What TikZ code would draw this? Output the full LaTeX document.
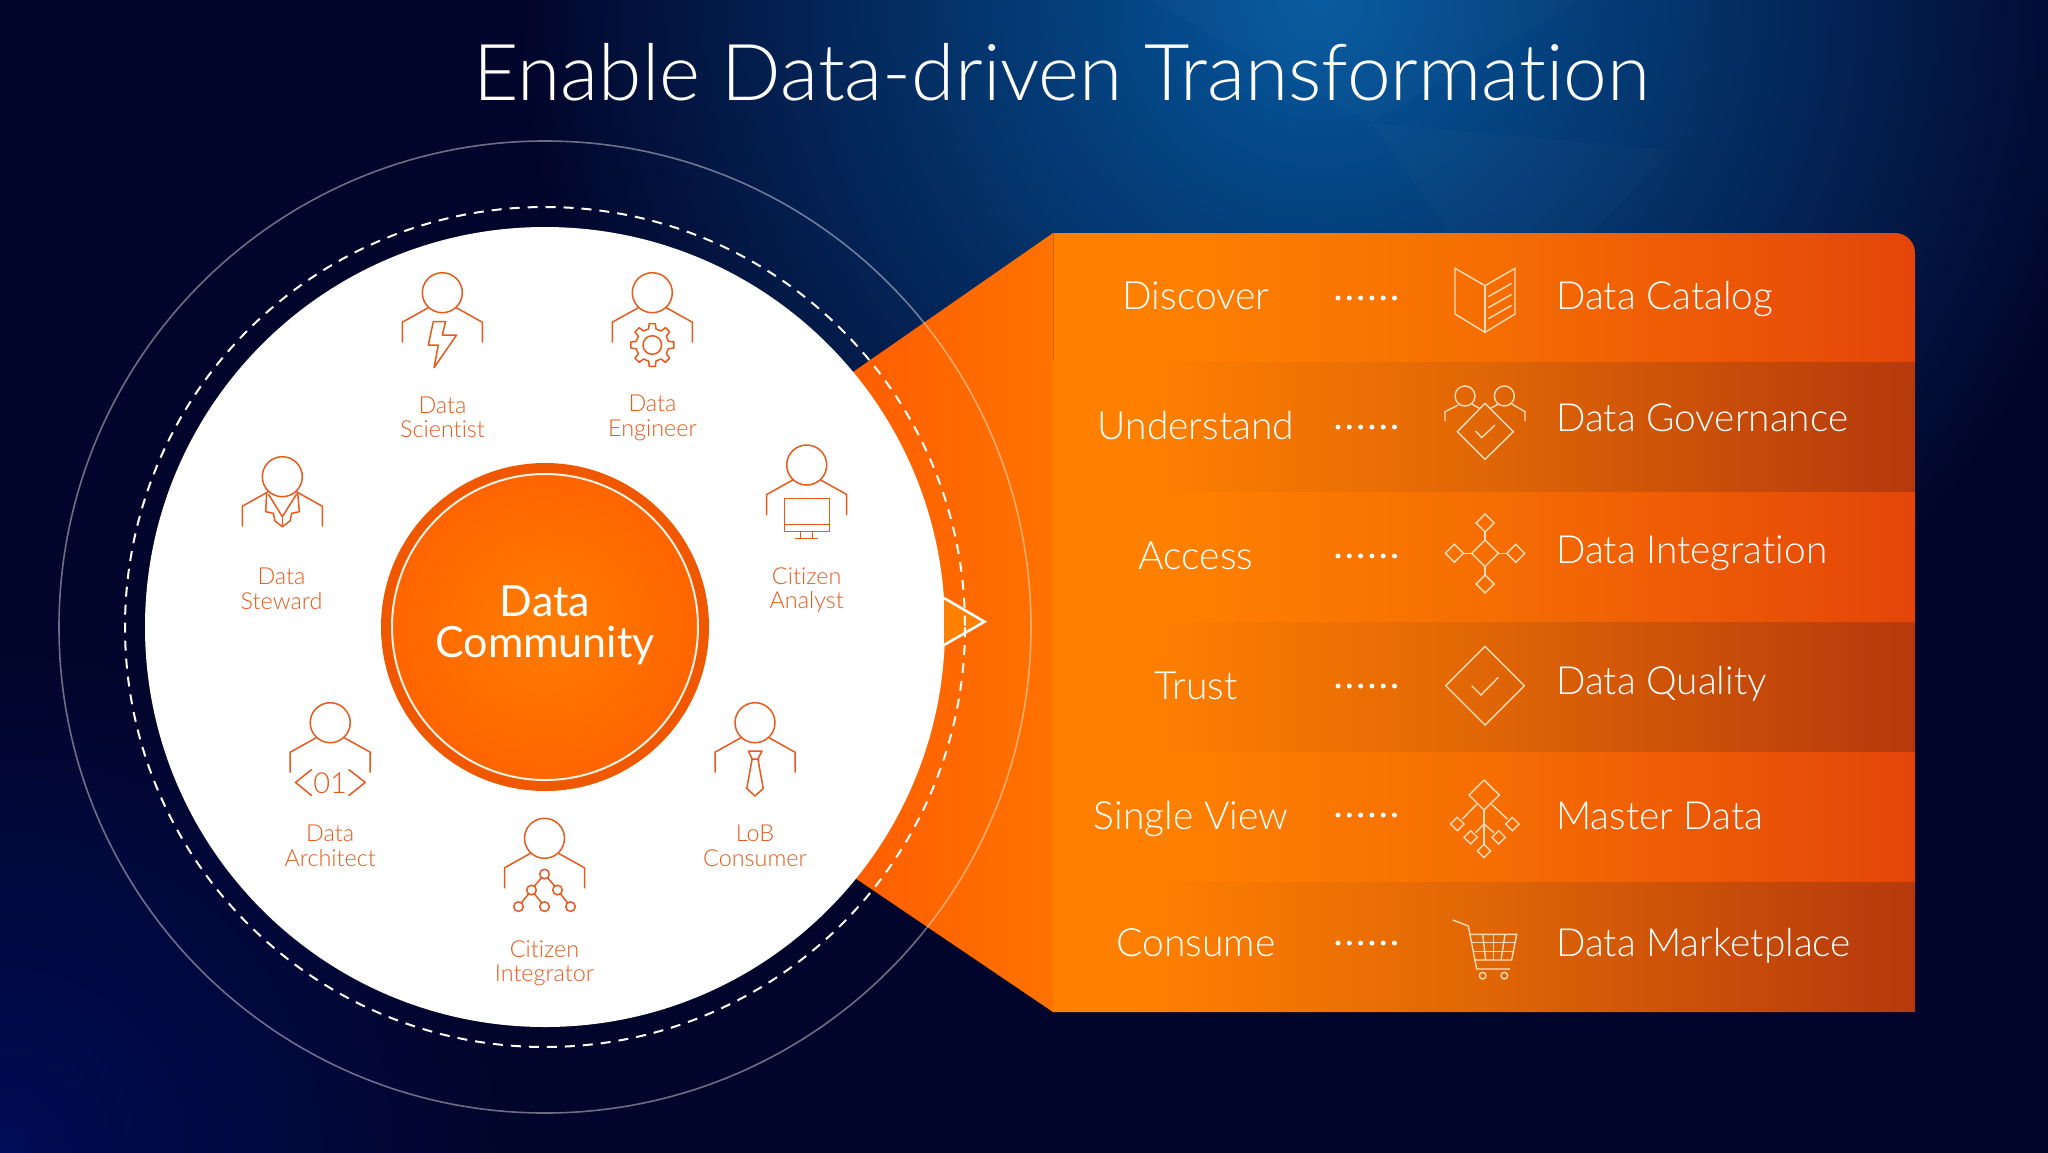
\documentclass[tikz,border=0pt]{standalone}
\usepackage{fontspec}
\setmainfont{Lato Light}[Ligatures=NoCommon]
\newfontfamily\regfont{Lato}[Ligatures=NoCommon]
\definecolor{base}{HTML}{02052B}
\definecolor{bgA}{HTML}{05599F}
\definecolor{bgB}{HTML}{03336B}
\definecolor{bgC}{HTML}{000C55}
\definecolor{ico}{HTML}{E9591C}
\definecolor{pale}{HTML}{FFDDB8}
\definecolor{panL}{HTML}{FF8000}
\definecolor{panM}{HTML}{F66E02}
\definecolor{panN}{HTML}{E06606}
\definecolor{panR}{HTML}{E4450A}
\definecolor{panD}{HTML}{B5390C}
\definecolor{funL}{HTML}{FF5E00}
\definecolor{funR}{HTML}{FF7200}
\definecolor{discI}{HTML}{FF7D00}
\definecolor{discM}{HTML}{FF6400}
\definecolor{discO}{HTML}{F05800}
\pgfdeclarehorizontalshading{rowlight}{100bp}{color(0bp)=(panL); color(32bp)=(panL); color(50bp)=(panM); color(75bp)=(panR); color(100bp)=(panR)}
\pgfdeclarehorizontalshading{rowdark}{100bp}{color(0bp)=(panL); color(30bp)=(panL); color(50bp)=(panN); color(75bp)=(panD); color(100bp)=(panD)}
\tikzset{
  x=1pt,y=-1pt,
  person/.style={draw=ico,line width=1.5pt,line join=round},
  paleline/.style={draw=pale,line width=1.4pt,line join=miter},
  lab/.style={text=ico,font=\fontsize{23.4}{25}\selectfont,inner sep=0,anchor=base},
  lefttext/.style={text=white,font=\fontsize{39}{41}\selectfont,inner sep=0,anchor=base},
  righttext/.style={text=white,font=\fontsize{38.8}{41}\selectfont,inner sep=0,anchor=base west},
  centretext/.style={text=white,font=\regfont\fontsize{43}{45}\selectfont,inner sep=0,anchor=base},
  dotmark/.style={fill=white,draw=none,circle,minimum size=5pt,inner sep=0},
}
\newcommand{\personat}[2]{%
  \draw[person] (#1,#2) circle (20);
  \draw[person] (#1-14,#2+15) -- (#1-40,#2+29.5) -- (#1-40,#2+50);
  \draw[person] (#1+14,#2+15) -- (#1+40,#2+29.5) -- (#1+40,#2+50);}
\newcommand{\dia}[3]{\draw[paleline] (#1,#2-#3) -- (#1+#3,#2) -- (#1,#2+#3) -- (#1-#3,#2) -- cycle;}
\newcommand{\dotrow}[2]{%
  \foreach \k in {0,...,5} \node[dotmark] (dot#1\k) at (1338+\k*11.3,#2) {};}
\begin{document}
\begin{tikzpicture}
\useasboundingbox (0,0) rectangle (2048,1152);
% background
\fill[base] (-10,-10) rectangle (2058,1162);
\shade[inner color=bgC,outer color=base] (0,1152) circle (500);
\shade[inner color=bgA,middle color=bgB,outer color=base] (1320,0) circle (800);
\fill[white,opacity=.02] (1150,0) -- (1580,0) -- (1371,123) -- cycle;
\fill[white,opacity=.02] (1371,123) -- (1670,150) -- (1593,233) -- (1450,233) -- cycle;
% funnel
\shade[left color=funL,right color=funR]
  (1053,233) -- (853,372) -- (855,878) -- (1053,1012) -- cycle;
% panel rows
\begin{scope}
\clip (1053,233) -- (1895,233) .. controls (1906,233) and (1915,242) .. (1915,253) -- (1915,1012) -- (1053,1012) -- cycle;
\shade[shading=rowlight] (1053,233) rectangle (1915,362.5);
\shade[shading=rowdark]  (1053,362.5) rectangle (1915,492);
\shade[shading=rowlight] (1053,492) rectangle (1915,622.5);
\shade[shading=rowdark]  (1053,622.5) rectangle (1915,752);
\shade[shading=rowlight] (1053,752) rectangle (1915,882);
\shade[shading=rowdark]  (1053,882) rectangle (1915,1012);
\end{scope}
\draw[black!30!funR,line width=.8pt,opacity=.6] (1053,233) -- (1053,360);
% rings and disc
\draw[white,opacity=.42,line width=1.6pt] (545,627) circle (486);
\fill[white] (545,627) circle (400);
\fill[panL] (944,598) -- (984.5,621.7) -- (944,645) -- cycle;
\draw[white,line width=2.6pt] (944,598) -- (984.5,621.7) -- (944,645);
\draw[white,line width=2pt,dash pattern=on 10pt off 8pt] (545,627) circle (420);
% centre
\fill[discO] (545,627) circle (164);
\shade[inner color=discI,outer color=discM] (545,627) circle (153);
\draw[white!90!orange,line width=2pt] (545,627) circle (153);
\node (centreA) [centretext] at (545,616.5) {Data};
\node (centreB) [centretext] at (545,657.5) {Community};
% title
\node (title) [inner sep=0,anchor=base,text=white,font=\fontsize{78.5}{84}\selectfont] at (1062,100) {Enable Data-driven Transformation};
% people
\personat{442.3}{292.7}
\personat{652.3}{292.7}
\personat{282.3}{476.7}
\personat{806.7}{465}
\personat{330.2}{722.7}
\personat{755}{722.7}
\personat{544.5}{838.3}
% scientist bolt
\begin{scope}[shift={(442.3,292.7)}]
\draw[person] (-9,29) -- (3.3,29) -- (0,42.3) -- (14.3,42.3) -- (-8.3,75) -- (-4,52.3) -- (-14,52.3) -- cycle;
\end{scope}
% engineer gear
\begin{scope}[shift={(652.3,345)}]
\draw[person] (0,0) circle (9.3);
\draw[person] (-103:16.5) \foreach \i in {0,...,7} { -- ({\i*45-103}:16.5) -- ({\i*45-98}:21.7) -- ({\i*45-82}:21.7) -- ({\i*45-77}:16.5) } -- cycle;
\end{scope}
% steward jacket
\begin{scope}[shift={(220,240)},scale=1/3]
\draw[person] (140,757) -- (137,815) -- (160,820) -- (165,843) -- (187,860) -- (210,843) -- (215,820) -- (238,815) -- (233,757);
\draw[person] (145,762) -- (187,830) -- (230,762);
\draw[person] (187,830) -- (187,860);
\end{scope}
% analyst monitor
\begin{scope}[shift={(806.7,465)}]
\draw[person] (-22.3,33.3) rectangle (22.7,66.7);
\draw[person] (-22.3,59.3) -- (22.7,59.3);
\draw[person] (-6,66.7) -- (-6,73.3);
\draw[person] (6,66.7) -- (6,73.3);
\draw[person] (-11.3,73.3) -- (11.3,73.3);
\end{scope}
% architect code
\begin{scope}[shift={(330.2,722.7)}]
\draw[person] (-18.4,46.7) -- (-34.7,59.7) -- (-18.4,73);
\draw[person] (18.4,46.7) -- (35,59.7) -- (18.4,73);
\node (code) [inner sep=0,text=ico,font=\fontsize{29}{30}\selectfont] at (0,60.5) {01};
\end{scope}
% consumer tie
\begin{scope}[shift={(755,722.7)}]
\draw[person] (-6.5,28.3) -- (6.9,28.3) -- (2.9,36.3) -- (-2.9,36.3) -- cycle;
\draw[person] (-2.9,36.3) -- (-8.2,65.7) -- (0,73.3) -- (8.2,65.7) -- (2.9,36.3);
\end{scope}
% integrator tree
\begin{scope}[shift={(544.5,838.3)}]
\draw[person] (0,35.7) circle (4.8);
\draw[person] (-13,51.7) circle (4.8);
\draw[person] (13,51.7) circle (4.8);
\draw[person] (-26,68.3) circle (4.8);
\draw[person] (0,68.3) circle (4.8);
\draw[person] (26,68.3) circle (4.8);
\draw[person] (-3,39.5) -- (-10,47.5);
\draw[person] (3,39.5) -- (10,47.5);
\draw[person] (-16,55.7) -- (-23,64.3);
\draw[person] (-10,55.7) -- (-3,64.3);
\draw[person] (16,55.7) -- (23,64.3);
\end{scope}
% role labels
\node (l1a) [lab] at (442.5,413) {Data};
\node (l1b) [lab] at (442.5,437.5) {Scientist};
\node (l2a) [lab] at (652.5,411.5) {Data};
\node (l2b) [lab] at (652.5,436) {Engineer};
\node (l3a) [lab] at (281.5,584) {Data};
\node (l3b) [lab] at (281.5,609) {Steward};
\node (l4a) [lab] at (806.7,584) {Citizen};
\node (l4b) [lab] at (806.7,608) {Analyst};
\node (l5a) [lab] at (330.2,841.7) {Data};
\node (l5b) [lab] at (330.2,866) {Architect};
\node (l6a) [lab] at (755,841.7) {LoB};
\node (l6b) [lab] at (755,866) {Consumer};
\node (l7a) [lab] at (544.5,957.3) {Citizen};
\node (l7b) [lab] at (544.5,981.7) {Integrator};
% panel left words
\node (w1) [lefttext] at (1196,309) {Discover};
\node (w2) [lefttext] at (1196,439) {Understand};
\node (w3) [lefttext] at (1196,569) {Access};
\node (w4) [lefttext] at (1196,699) {Trust};
\node (w5) [lefttext] at (1191,829) {Single View};
\node (w6) [lefttext] at (1196,956.5) {Consume};
% dots
\dotrow{a}{298}
\dotrow{b}{427}
\dotrow{c}{556}
\dotrow{d}{686}
\dotrow{e}{815}
\dotrow{f}{943}
% panel right words
\node (r1) [righttext] at (1556,309) {Data Catalog};
\node (r2) [righttext] at (1556,431) {Data Governance};
\node (r3) [righttext] at (1556,563) {Data Integration};
\node (r4) [righttext] at (1556,694) {Data Quality};
\node (r5) [righttext] at (1556,829) {Master Data};
\node (r6) [righttext] at (1556,956) {Data Marketplace};
% panel icons, upper three
\begin{scope}[shift={(1400,240)},scale=1/3]
\draw[paleline] (165,85) -- (255,137) -- (345,85) -- (345,222) -- (255,277) -- (165,222) -- cycle;
\draw[paleline] (255,137) -- (255,277);
\draw[paleline] (265,170) -- (335,130);
\draw[paleline] (265,203) -- (335,163);
\draw[paleline] (265,236) -- (335,196);
\draw[paleline] (195,468) circle (30);
\draw[paleline] (313,468) circle (30);
\draw[paleline] (175,495) -- (135,515) -- (135,543);
\draw[paleline] (215,492) -- (238,505);
\draw[paleline] (335,492) -- (375,515) -- (375,543);
\draw[paleline] (295,492) -- (272,505);
\draw[paleline] (255,490) -- (340,575) -- (255,658) -- (172,575) -- cycle;
\draw[paleline] (227,573) -- (245,593) -- (285,555);
\dia{255}{940}{40}
\dia{255}{849}{27}
\dia{255}{1032}{27}
\dia{163}{940}{27}
\dia{347}{940}{27}
\draw[paleline] (255,876) -- (255,900);
\draw[paleline] (255,980) -- (255,1005);
\draw[paleline] (190,940) -- (215,940);
\draw[paleline] (295,940) -- (320,940);
\end{scope}
% panel icons, lower three
\begin{scope}[shift={(1400,620)},scale=1/3]
\dia{255}{197}{118}
\draw[paleline] (215,197) -- (243,225) -- (295,172);
\draw[paleline] (252,480) -- (298,525) -- (252,570) -- (207,525) -- cycle;
\dia{172}{612}{20}
\dia{337}{612}{20}
\dia{212}{652}{20}
\dia{296}{652}{20}
\dia{252}{693}{20}
\draw[paleline] (252,570) -- (252,673);
\draw[paleline] (230,553) -- (187,597);
\draw[paleline] (275,553) -- (322,597);
\draw[paleline] (252,612) -- (226,638);
\draw[paleline] (252,612) -- (282,638);
\draw[paleline] (158,900) -- (205,918) -- (230,1047) -- (330,1047);
\draw[paleline] (208,943) -- (350,943) -- (335,1020) -- (225,1020);
\draw[paleline] (213,968) -- (345,968);
\draw[paleline] (219,995) -- (340,995);
\draw[paleline] (248,943) -- (257,1020);
\draw[paleline] (280,943) -- (280,1020);
\draw[paleline] (315,943) -- (303,1020);
\draw[paleline] (248,1067) circle (10);
\draw[paleline] (313,1067) circle (10);
\end{scope}
\end{tikzpicture}
\end{document}
